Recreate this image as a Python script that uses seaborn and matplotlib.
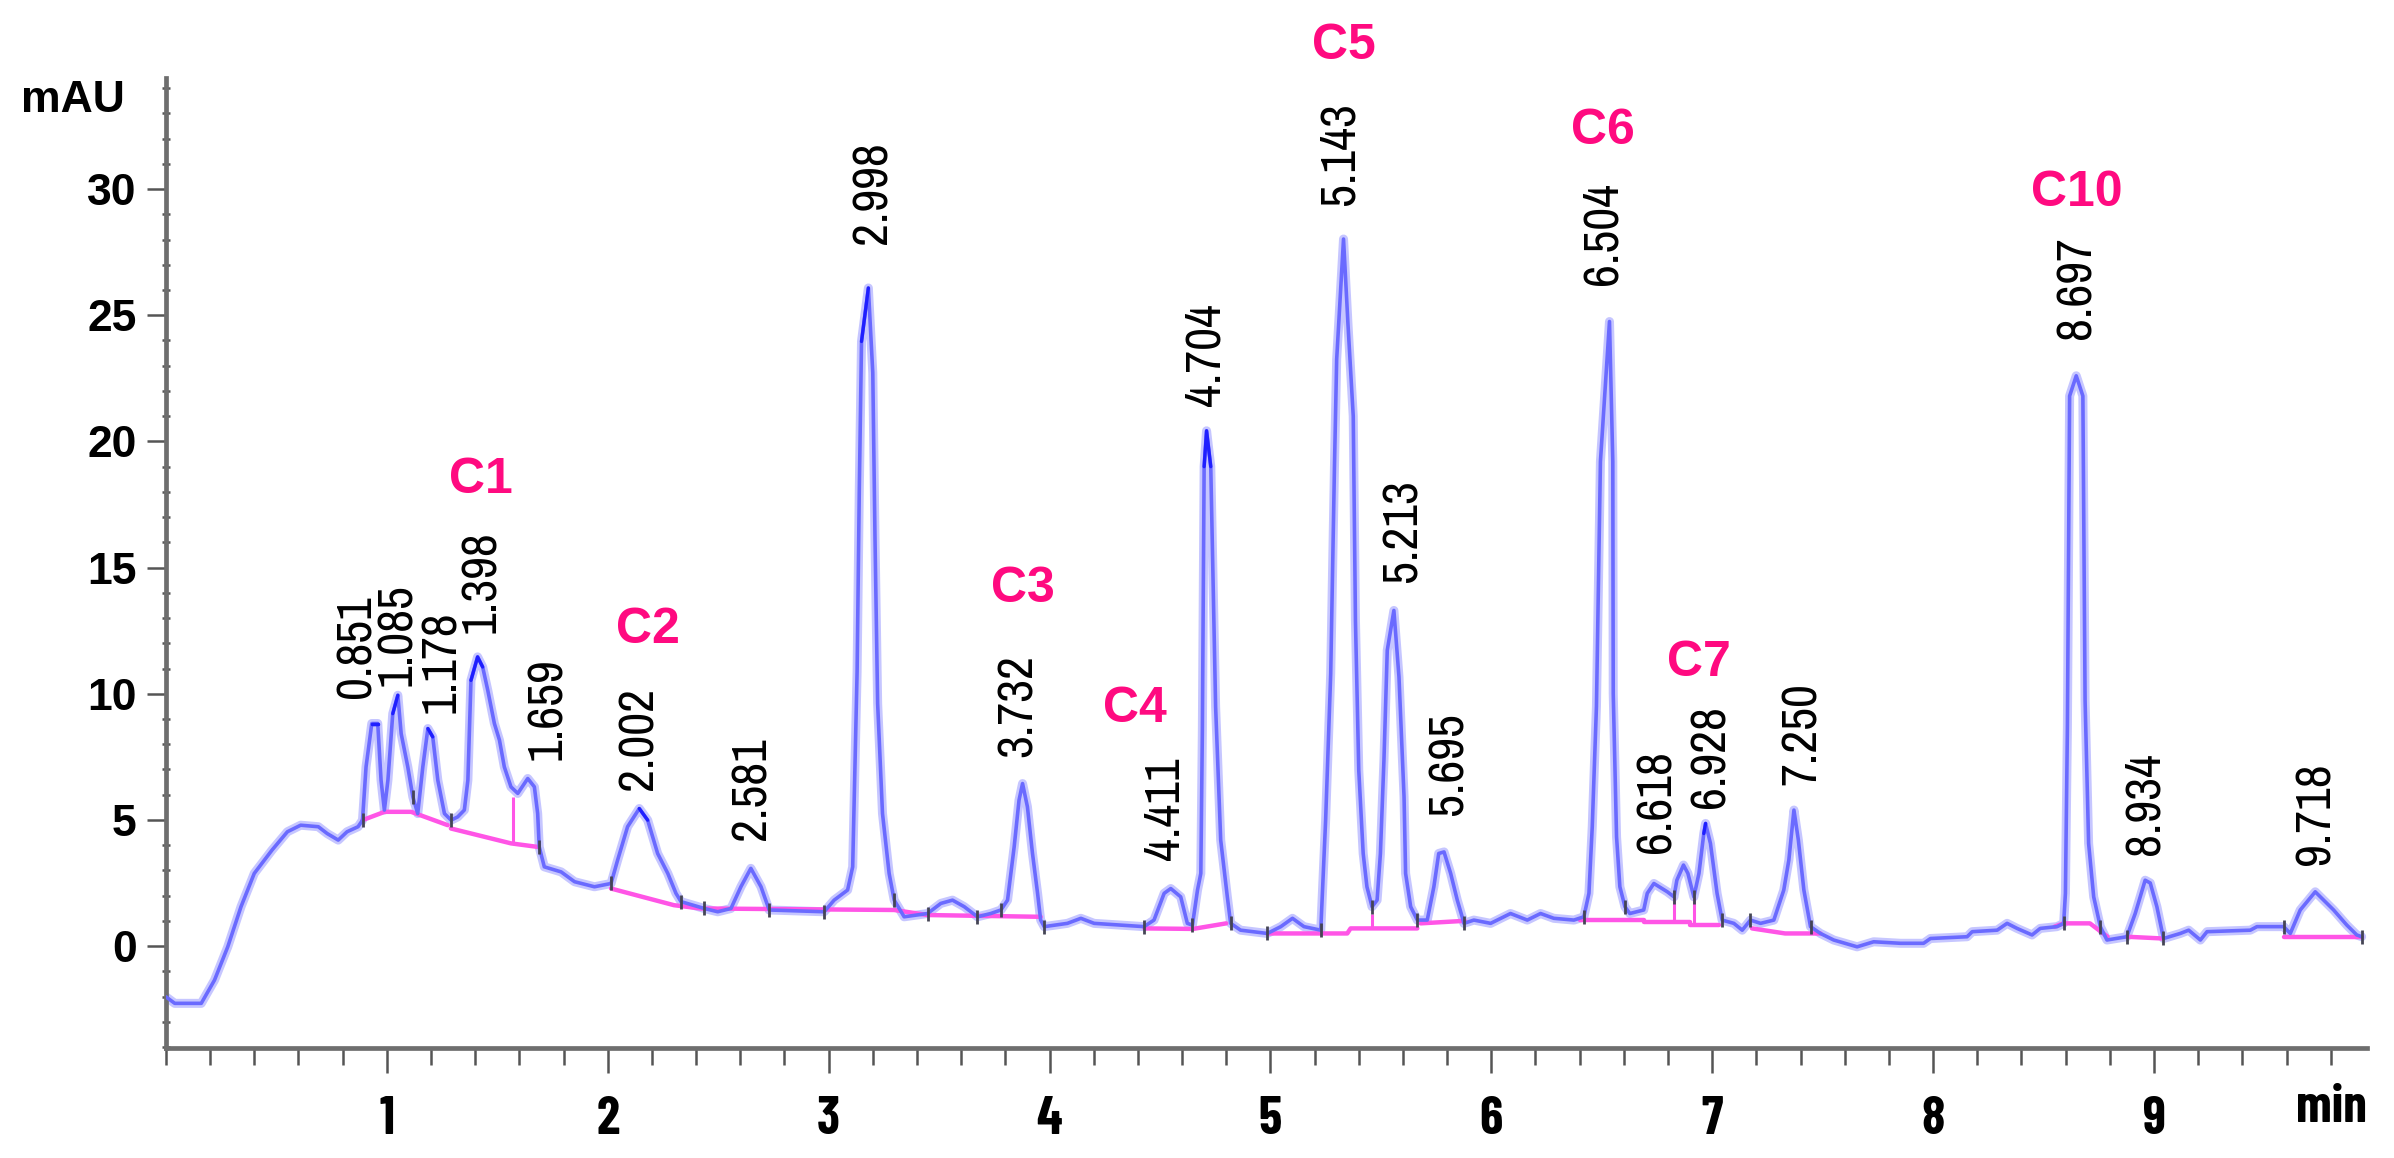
import numpy as np
import pandas as pd
import matplotlib
matplotlib.use("Agg")
import matplotlib.pyplot as plt
import matplotlib.font_manager as fm
from matplotlib.ticker import FixedLocator, MultipleLocator
import seaborn as sns

# ---------------- data ----------------
trace_time = [0.00, 0.04, 0.16, 0.22, 0.28, 0.34, 0.40, 0.48, 0.55, 0.61, 0.69, 0.73, 0.78, 0.82, 0.87,
              0.89, 0.906, 0.932, 0.959, 0.974, 0.989, 1.005, 1.027, 1.050, 1.065, 1.095, 1.118, 1.14,
              1.163, 1.186, 1.208, 1.231, 1.261, 1.291, 1.321, 1.351, 1.367, 1.381, 1.411, 1.434, 1.457,
              1.487, 1.51, 1.532, 1.562, 1.593, 1.638, 1.668, 1.683, 1.69, 1.713, 1.789, 1.85, 1.94,
              2.015, 2.045, 2.09, 2.143, 2.181, 2.226, 2.272, 2.309, 2.332, 2.437, 2.498, 2.558, 2.603,
              2.648, 2.694, 2.731, 2.98, 3.025, 3.086, 3.109, 3.116, 3.129, 3.139, 3.149, 3.18, 3.20,
              3.21, 3.222, 3.244, 3.274, 3.297, 3.342, 3.448, 3.508, 3.561, 3.614, 3.674, 3.734, 3.78,
              3.81, 3.84, 3.862, 3.878, 3.90, 3.923, 3.946, 3.96, 3.976, 4.081, 4.142, 4.202, 4.428,
              4.473, 4.519, 4.549, 4.594, 4.624, 4.647, 4.67, 4.685, 4.692, 4.700, 4.711, 4.730, 4.752,
              4.775, 4.805, 4.82, 4.865, 4.986, 5.047, 5.1, 5.152, 5.228, 5.25, 5.273, 5.29, 5.30,
              5.331, 5.351, 5.375, 5.385, 5.40, 5.42, 5.437, 5.46, 5.483, 5.498, 5.514, 5.529, 5.559,
              5.582, 5.605, 5.612, 5.635, 5.665, 5.71, 5.74, 5.762, 5.786, 5.816, 5.846, 5.868, 5.876,
              5.921, 5.997, 6.087, 6.163, 6.223, 6.283, 6.374, 6.419, 6.442, 6.457, 6.476, 6.494, 6.535,
              6.55, 6.552, 6.567, 6.582, 6.605, 6.627, 6.69, 6.706, 6.736, 6.797, 6.827, 6.84, 6.87,
              6.89, 6.917, 6.94, 6.962, 6.97, 6.992, 7.022, 7.045, 7.098, 7.136, 7.173, 7.219, 7.279,
              7.324, 7.347, 7.37, 7.39, 7.415, 7.445, 7.49, 7.55, 7.656, 7.731, 7.852, 7.957, 7.988,
              8.154, 8.177, 8.29, 8.335, 8.38, 8.448, 8.485, 8.561, 8.591, 8.599, 8.608, 8.618, 8.648,
              8.678, 8.688, 8.704, 8.727, 8.757, 8.787, 8.877, 8.915, 8.96, 8.983, 9.013, 9.043, 9.119,
              9.157, 9.21, 9.24, 9.436, 9.466, 9.587, 9.617, 9.662, 9.73, 9.813, 9.873, 9.918, 9.94]
trace_mau = [-2.01, -2.27, -2.27, -1.35, -0.03, 1.56, 2.88, 3.80, 4.53, 4.79, 4.73, 4.46, 4.20, 4.53, 4.73,
             4.99, 7.10, 8.82, 8.82, 6.57, 5.39, 6.57, 9.21, 9.94, 8.42, 7.10, 5.91, 5.25,
             7.10, 8.62, 8.29, 6.57, 5.25, 4.99, 5.12, 5.39, 6.57, 10.53, 11.46, 11.06, 10.14,
             8.82, 8.16, 7.10, 6.31, 6.05, 6.64, 6.31, 5.25, 3.93, 3.14, 2.94, 2.55, 2.35,
             2.48, 3.41, 4.73, 5.45, 4.99, 3.67, 2.88, 2.09, 1.76, 1.49, 1.36, 1.49, 2.35,
             3.08, 2.35, 1.43, 1.36, 1.82, 2.22, 3.14, 5.78, 10.87, 18.12, 23.96, 26.08, 22.72,
             16.18, 9.61, 5.25, 2.88, 1.82, 1.16, 1.29, 1.69, 1.82, 1.56, 1.16, 1.29, 1.43,
             1.82, 3.93, 5.78, 6.44, 5.52, 3.67, 2.09, 1.03, 0.77, 0.90, 1.10, 0.90, 0.77,
             1.03, 2.09, 2.28, 1.95, 0.90, 0.83, 2.22, 2.88, 8.55, 19.0, 20.42, 19.0, 9.48,
             4.2, 1.95, 0.90, 0.63, 0.50, 0.77, 1.10, 0.77, 0.63, 4.99, 10.8, 19.0, 23.25,
             28.02, 24.67, 21.0, 12.9, 6.97, 3.67, 2.35, 1.56, 1.82, 3.67, 7.37, 11.72, 13.3,
             10.67, 5.91, 2.88, 1.56, 1.03, 1.03, 2.35, 3.67, 3.73, 2.88, 1.82, 1.16, 0.90,
             1.03, 0.90, 1.29, 1.03, 1.29, 1.10, 1.03, 1.16, 2.09, 4.73, 9.5, 19.2, 24.75,
             19.2, 10.0, 4.33, 2.35, 1.56, 1.29, 1.43, 2.09, 2.48, 2.15, 1.95, 2.61, 3.21,
             2.88, 1.95, 2.88, 4.46, 4.86, 4.07, 2.09, 1.03, 0.90, 0.63, 1.03, 0.90, 1.03,
             2.22, 3.41, 5.39, 4.2, 2.22, 0.77, 0.50, 0.24, -0.03, 0.17, 0.11, 0.11, 0.30,
             0.37, 0.57, 0.63, 0.9, 0.70, 0.44, 0.70, 0.77, 0.90, 2.09, 8.7, 21.8, 22.6,
             21.8, 9.74, 4.07, 1.95, 0.77, 0.24, 0.37, 1.29, 2.61, 2.5, 1.56, 0.30, 0.50,
             0.63, 0.24, 0.57, 0.63, 0.77, 0.77, 0.50, 1.43, 2.15, 1.43, 0.83, 0.44, 0.37]

# integration baseline (magenta), one id per segment
baseline_seg = [1, 1, 1, 1, 2, 2, 2, 3, 3, 3, 3, 3, 3, 4, 4, 4, 5, 5, 5, 5, 6, 6,
                7, 7, 8, 8, 8, 9, 9, 10, 10, 10, 11, 11, 11, 11, 12, 12, 13, 13]
baseline_time = [0.89, 0.99, 1.11, 1.276, 1.29, 1.562, 1.683, 2.015, 2.30, 2.42, 3.297, 3.448, 3.96,
                 4.43, 4.65, 4.80, 4.986, 5.348, 5.363, 5.665, 5.68, 5.88,
                 6.40, 6.69, 6.69, 6.827, 6.90, 6.90, 7.03, 7.18, 7.33, 7.49, 8.55, 8.59, 8.71, 8.79,
                 8.877, 9.04, 9.59, 9.94]
baseline_mau = [4.99, 5.32, 5.32, 4.79, 4.66, 4.07, 3.93, 2.28, 1.62, 1.49, 1.43, 1.23, 1.16,
                0.70, 0.68, 0.90, 0.50, 0.50, 0.70, 0.70, 0.90, 1.00,
                1.03, 1.03, 0.96, 0.96, 0.96, 0.83, 0.83, 0.70, 0.50, 0.50, 0.77, 0.90, 0.90, 0.37,
                0.37, 0.30, 0.37, 0.37]

drop_time = [1.57, 5.46, 6.827, 6.917]
drop_low = [4.07, 0.70, 0.96, 0.83]
drop_high = [5.91, 1.29, 1.95, 1.95]

# integration event marks (short dark ticks on the trace)
event_time = [0.89, 1.118, 1.291, 1.69, 2.015, 2.332, 2.437, 2.731, 2.98, 3.297, 3.448, 3.674, 3.78,
              3.976, 4.428, 4.647, 4.82, 4.986, 5.228, 5.46, 5.665, 5.876, 6.419, 6.605, 6.827,
              6.917, 7.045, 7.173, 7.445, 8.591, 8.757, 8.877, 9.043, 9.587, 9.94]

peak_rt = ["0.851", "1.085", "1.178", "1.398", "1.659", "2.002", "2.581", "2.998", "3.732", "4.411",
           "4.704", "5.143", "5.213", "5.695", "6.504", "6.618", "6.928", "7.250", "8.697", "8.934",
           "9.718"]
peak_label_time = [0.866, 1.05, 1.246, 1.427, 1.728, 2.143, 2.652, 3.20, 3.86, 4.526,
                   4.71, 5.315, 5.599, 5.807, 6.504, 6.75, 6.996, 7.41, 8.653, 8.96, 9.734]
peak_label_mau = [9.82, 10.3, 9.22, 12.4, 7.37, 6.18, 4.20, 27.84, 7.5, 3.4,
                  21.4, 29.35, 14.42, 5.19, 26.18, 3.7, 5.48, 6.38, 24.04, 3.6, 3.2]

compound_names = ["C1", "C2", "C3", "C4", "C5", "C6", "C7", "C10"]
compound_time = [1.427, 2.18, 3.88, 4.386, 5.332, 6.504, 6.938, 8.65]
compound_mau = [18.46, 12.51, 14.14, 9.38, 35.66, 32.3, 11.2, 29.86]

x_ticks = [1, 2, 3, 4, 5, 6, 7, 8, 9]
y_ticks = [0, 5, 10, 15, 20, 25, 30]

# ---------------- style ----------------
sns.set_theme(style="white")
entries = fm.fontManager.ttflist
names = {f.name for f in entries}


def _w(f):
    w = f.weight
    if isinstance(w, str):
        w = fm.weight_dict.get(w, 400)
    return w


def pick(cands, bold=False):
    for c in cands:
        if bold:
            if any(f.name == c and _w(f) >= 600 for f in entries):
                return c
        elif c in names:
            return c
    return "DejaVu Sans"


narrow = pick(["Liberation Sans Narrow", "Archivo Narrow", "Roboto Condensed", "Arimo Narrow",
               "Fira Sans Condensed", "IBM Plex Sans Condensed", "Barlow Semi Condensed"])
narrow_bold = pick(["Liberation Sans Narrow", "Barlow Condensed", "Roboto Condensed",
                    "Archivo Narrow", "Fira Sans Condensed", "IBM Plex Sans Condensed",
                    "Encode Sans Condensed", "Asap Condensed"], bold=True)
sans = pick(["Liberation Sans", "Arimo", "DejaVu Sans"])
plt.rcParams["font.family"] = [sans, "DejaVu Sans"]
plt.rcParams["text.color"] = "black"

LINE = "#6a6aff"
HALO = "#c6c6ff"
APEX = "#1f1fff"
BASE = "#ff55e6"
PINK = "#ff0a80"
AXIS = "#6e6e6e"
TICK = "#555555"

fig = plt.figure(figsize=(23.94, 11.58), dpi=100)
ax = fig.add_axes([0.0693, 0.0952, 0.9194, 0.8374])

df = pd.DataFrame({"time": trace_time, "mau": trace_mau})
bl = pd.DataFrame({"time": baseline_time, "mau": baseline_mau, "seg": baseline_seg})

sns.lineplot(data=df, x="time", y="mau", sort=False, estimator=None, ax=ax,
             color=HALO, linewidth=6.5, zorder=2)
sns.lineplot(data=bl, x="time", y="mau", units="seg", sort=False, estimator=None, ax=ax,
             color=BASE, linewidth=3.2, zorder=3)
ax.vlines(drop_time, drop_low, drop_high, color=BASE, linewidth=2.2, zorder=3)
sns.lineplot(data=df, x="time", y="mau", sort=False, estimator=None, ax=ax,
             color=LINE, linewidth=2.6, zorder=4)

# darker stroke at the apex of the sharp peaks (taken from the trace itself)
vals = np.asarray(trace_mau)
apex_rows = []
for i in range(1, len(vals) - 1):
    if vals[i] > 4.5 and vals[i] >= vals[i - 1] and vals[i] >= vals[i + 1]:
        lim = vals[i] - 0.12 * (vals[i] - 1.0)
        lo, hi = i, i
        while lo > 0 and vals[lo - 1] >= lim:
            lo -= 1
        while hi < len(vals) - 1 and vals[hi + 1] >= lim:
            hi += 1
        if trace_time[hi] - trace_time[lo] > 0.06:
            continue
        for j in range(lo, hi + 1):
            apex_rows.append((i, trace_time[j], trace_mau[j]))
apex = pd.DataFrame(apex_rows, columns=["peak", "time", "mau"])
if len(apex):
    sns.lineplot(data=apex, x="time", y="mau", units="peak", sort=False, estimator=None, ax=ax,
                 color=APEX, linewidth=2.4, zorder=4.5)

ev_mau = np.interp(event_time, trace_time, trace_mau)
ax.scatter(event_time, ev_mau, marker="|", s=110, linewidths=2.0, color="#454555", zorder=5)

for rt, t, v in zip(peak_rt, peak_label_time, peak_label_mau):
    ax.text(t, v, rt, rotation=90, ha="center", va="bottom", fontsize=36,
            family=[narrow, "DejaVu Sans"], color="black", zorder=6, clip_on=False)

for name, t, v in zip(compound_names, compound_time, compound_mau):
    ax.text(t, v, name, ha="center", va="center", fontsize=36, fontweight="bold",
            color=PINK, zorder=6, clip_on=False)

ax.set_xlim(0, 9.964)
ax.set_ylim(-4.03, 34.4)
ax.set_xlabel("")
ax.set_ylabel("")

for s in ["top", "right"]:
    ax.spines[s].set_visible(False)
for s in ["left", "bottom"]:
    ax.spines[s].set_color(AXIS)
    ax.spines[s].set_linewidth(3.4)

ax.xaxis.set_major_locator(FixedLocator(x_ticks))
ax.xaxis.set_minor_locator(MultipleLocator(0.2))
ax.yaxis.set_major_locator(FixedLocator(y_ticks))
ax.yaxis.set_minor_locator(MultipleLocator(1))
ax.set_xticklabels([str(v) for v in x_ticks])
ax.set_yticklabels([str(v) for v in y_ticks])

ax.tick_params(axis="x", which="major", direction="out", length=18, width=1.8, color=TICK,
               pad=17, labelsize=38, labelcolor="black", bottom=True)
ax.tick_params(axis="x", which="minor", direction="out", length=12, width=1.8, color=TICK,
               bottom=True)
ax.tick_params(axis="y", which="major", direction="out", length=14, width=1.8, color=TICK,
               pad=7, labelsize=32, labelcolor="black", left=True)
ax.tick_params(axis="y", which="minor", direction="inout", length=6, width=1.8, color=TICK,
               left=True)
for lab in ax.get_xticklabels():
    lab.set_fontweight("bold")
    lab.set_family([narrow_bold, "DejaVu Sans"])
for lab in ax.get_yticklabels():
    lab.set_fontweight("bold")

fig.text(73 / 2394, 1 - 101 / 1158, "mAU", ha="center", va="center", fontsize=32,
         fontweight="bold", color="black")
ax.text(9.964, -6.42, "min", ha="right", va="center", fontsize=38, fontweight="bold",
        family=[narrow_bold, "DejaVu Sans"], color="black", clip_on=False)

fig.savefig("out.png", dpi=100, facecolor="white")
